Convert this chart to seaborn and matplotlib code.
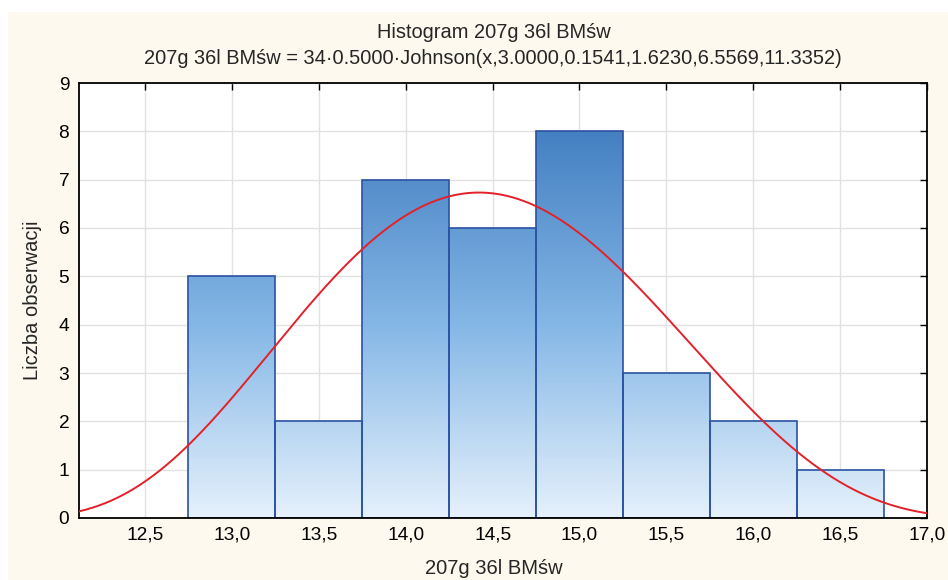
import numpy as np
import matplotlib
matplotlib.use("Agg")
import matplotlib.pyplot as plt
import seaborn as sns
from matplotlib.colors import LinearSegmentedColormap, Normalize
from matplotlib.patches import Rectangle

# ---- data ----
bin_edges = [12.75, 13.25, 13.75, 14.25, 14.75, 15.25, 15.75, 16.25, 16.75]
bin_centers = [13.0, 13.5, 14.0, 14.5, 15.0, 15.5, 16.0, 16.5]
counts = [5, 2, 7, 6, 8, 3, 2, 1]
n_obs = 34
bin_width = 0.5
# Johnson SB parameters from the chart title
johnson_type = 3
j_gamma = 0.1541
j_delta = 1.6230
j_lambda = 6.5569
j_xi = 11.3352
x_ticks = [12.5, 13.0, 13.5, 14.0, 14.5, 15.0, 15.5, 16.0, 16.5, 17.0]
y_ticks = [0, 1, 2, 3, 4, 5, 6, 7, 8, 9]
title1 = "Histogram 207g 36l BMśw"
title2 = "207g 36l BMśw = 34·0.5000·Johnson(x,3.0000,0.1541,1.6230,6.5569,11.3352)"
xlabel = "207g 36l BMśw"
ylabel = "Liczba obserwacji"

sns.set_style("white")
plt.rcParams["font.family"] = ["Liberation Sans", "DejaVu Sans"]

W, H = 948, 580
fig = plt.figure(figsize=(W / 100, H / 100), dpi=100)
fig.patch.set_facecolor("white")
fig.patches.append(Rectangle((8 / W, 0), 1, 1 - 12 / H, transform=fig.transFigure,
                             facecolor="#fdf9ee", edgecolor="none", zorder=-10))

ax = fig.add_axes([79 / W, 1 - 518 / H, (927 - 79) / W, (518 - 83) / H])
ax.set_facecolor("white")

xmin, xmax = 12.12, 17.0
ymin, ymax = 0, 9

sns.histplot(x=bin_centers, weights=counts, bins=bin_edges, ax=ax, stat="count",
             element="bars", fill=True, color="#4a84c4", edgecolor="#2b52a3",
             linewidth=1.2, alpha=1)

cmap = LinearSegmentedColormap.from_list(
    "bargrad", [(0.0, "#e5f1fc"), (0.5, "#85b7e6"), (1.0, "#4480c2")])
grad = np.linspace(ymin, ymax, 300).reshape(-1, 1)
for p in list(ax.patches):
    p.set_facecolor("none")
    p.set_zorder(2)
    im = ax.imshow(grad, extent=(xmin, xmax, ymin, ymax), origin="lower", cmap=cmap,
                   norm=Normalize(0, 8), aspect="auto", zorder=1.5, interpolation="bilinear")
    im.set_clip_path(p)

# fitted Johnson SB curve
xs = np.linspace(xmin, xmax, 500)
u = (xs - j_xi) / (j_xi + j_lambda - xs)
z = j_gamma + j_delta * np.log(u)
pdf = j_delta * j_lambda / (np.sqrt(2 * np.pi) * (xs - j_xi) * (j_xi + j_lambda - xs)) * np.exp(-0.5 * z ** 2)
sns.lineplot(x=xs, y=n_obs * bin_width * pdf, ax=ax, color="#e3212a", linewidth=1.4, zorder=3)

ax.set_xlim(xmin, xmax)
ax.set_ylim(ymin, ymax)
ax.set_xticks(x_ticks)
ax.set_xticklabels([f"{t:.1f}".replace(".", ",") for t in x_ticks])
ax.set_yticks(y_ticks)
ax.set_yticklabels([str(t) for t in y_ticks])
ax.grid(True, color="#e2e2e2", linewidth=1.0, zorder=0.5)
ax.set_axisbelow(True)
ax.tick_params(direction="in", top=True, right=True, length=5, width=1,
               labelsize=13.8, colors="black")
ax.tick_params(axis="x", pad=6)
ax.tick_params(axis="y", pad=7)
for s in ax.spines.values():
    s.set_visible(True)
    s.set_color("black")
    s.set_linewidth(1.3)
ax.set_xlabel("")
ax.set_ylabel("")

fig.text(494 / W, 1 - 32 / H, title1, ha="center", va="center", fontsize=14.4)
fig.text(493 / W, 1 - 59 / H, title2, ha="center", va="center", fontsize=14.4)
fig.text(494 / W, 1 - 568 / H, xlabel, ha="center", va="center", fontsize=14.5)
fig.text(33 / W, 1 - 300 / H, ylabel, ha="center", va="center", rotation=90, fontsize=14.5)

fig.savefig("out.png", dpi=100)
